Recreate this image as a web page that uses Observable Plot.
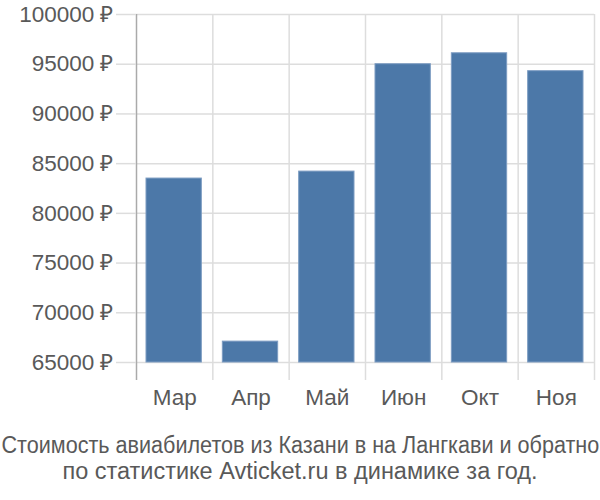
<!DOCTYPE html>
<html>
<head>
<meta charset="utf-8">
<script src="https://cdn.jsdelivr.net/npm/d3@7"></script>
<script src="https://cdn.jsdelivr.net/npm/@observablehq/plot@0.6"></script>
<style>
  body { margin: 0; background: #fff; overflow: hidden; }
  #caption { width: 600px; font-family: "Liberation Sans", Arial, sans-serif; font-size: 23.5px; line-height: 26px; color: #595959; margin-top: 12px; white-space: nowrap; }
  #caption div { height: 26px; width: 600px; display: flex; justify-content: center; }
  #caption span { display: inline-block; flex: none; transform-origin: center; }
</style>
</head>
<body>
<div id="chart"></div>
<div id="caption"><div><span id="cap1">Стоимость авиабилетов из Казани в на Лангкави и обратно</span></div><div><span>по статистике Avticket.ru в динамике за год.</span></div></div>
<script>
const months = ["Мар", "Апр", "Май", "Июн", "Окт", "Ноя"];
const prices = [83500, 67100, 84200, 95000, 96100, 94300];
const yTicks = [65000, 70000, 75000, 80000, 85000, 90000, 95000, 100000];

const data = months.map((m, i) => ({i, month: m, price: prices[i]}));
const boundaries = d3.range(months.length + 1);
const centers = months.map((m, i) => i + 0.5);
const yMin = yTicks[0], yMax = yTicks[yTicks.length - 1];

const chart = Plot.plot({
  width: 600,
  height: 420,
  marginTop: 14,
  marginBottom: 58,
  marginLeft: 136,
  marginRight: 6,
  style: {fontFamily: "Liberation Sans, Arial, sans-serif", fontSize: "22.5px", color: "#595959"},
  x: {type: "linear", domain: [0, months.length], axis: null},
  y: {domain: [yMin, yMax], axis: null},
  marks: [
    Plot.ruleY(yTicks, {stroke: "#ddd", strokeWidth: 1.5}),
    Plot.ruleX(boundaries.slice(1), {stroke: "#ddd", strokeWidth: 1.5, insetBottom: -18}),
    Plot.rectY(data, {x1: d => d.i, x2: d => d.i + 1, y1: yMin, y2: "price", insetLeft: 10, insetRight: 11, fill: "#4c78a8", stroke: "#7d9cc2", strokeWidth: 1}),
    Plot.ruleX([0], {stroke: "#aaa", strokeWidth: 1.5, insetBottom: -18}),
    Plot.axisY({ticks: yTicks, tickSize: 20, tickPadding: 3, tickFormat: d => d + " ₽", stroke: "#ddd", fill: "#595959", strokeWidth: 1.5, label: null}),
    Plot.axisX({ticks: centers, tickSize: 0, tickPadding: 27, tickFormat: d => months[Math.floor(d)], fill: "#595959", label: null})
  ]
});
document.getElementById("chart").appendChild(chart);
const cap1 = document.getElementById("cap1");
const w = cap1.offsetWidth;
if (w > 598) cap1.style.transform = `scaleX(${598 / w})`;
</script>
</body>
</html>
